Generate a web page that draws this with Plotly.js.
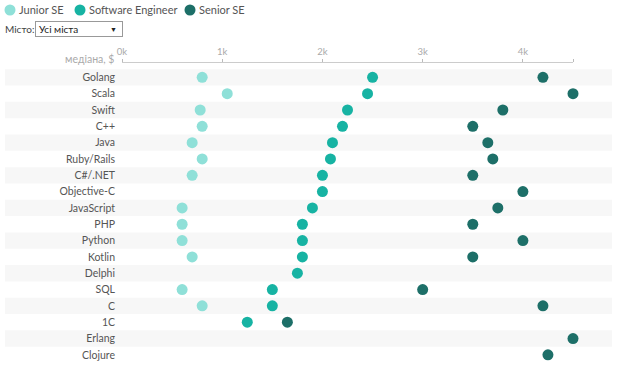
<!DOCTYPE html>
<html>
<head>
<meta charset="utf-8">
<script src="https://cdn.plot.ly/plotly-3.0.1.min.js"></script>
<style>
  html, body { margin: 0; padding: 0; background: #fff; }
  #wrap { position: relative; width: 620px; height: 375px; }
  #chart { position: absolute; left: 0; top: 0; width: 620px; height: 375px; }
  .lbl { position: absolute; left: 5px; top: 22px; font-family: Lato, sans-serif; font-size: 10px; line-height: 14px; color: #444; }
  .box { position: absolute; left: 35px; top: 21px; width: 83px; height: 14px; border: 1px solid #999; font-family: Lato, sans-serif; font-size: 10px; line-height: 14px; padding-left: 3px; color: #222; background: #fff; }
  .box span { position: absolute; right: 5px; top: 0; font-size: 7px; }
</style>
</head>
<body>
<div id="wrap">
  <div id="chart"></div>
  <div class="lbl">Місто:</div>
  <div class="box">Усі міста<span>▼</span></div>
</div>
<script>
const languages = ["Golang","Scala","Swift","C++","Java","Ruby/Rails","C#/.NET","Objective-C","JavaScript","PHP","Python","Kotlin","Delphi","SQL","C","1C","Erlang","Clojure"];
const juniorSE   = [800, 1050, 780, 800, 700, 800, 700, null, 600, 600, 600, 700, null, 600, 800, null, null, null];
const softwareEngineer = [2500, 2450, 2250, 2200, 2100, 2080, 2000, 2000, 1900, 1800, 1800, 1800, 1750, 1500, 1500, 1250, null, null];
const seniorSE   = [4200, 4500, 3800, 3500, 3650, 3700, 3500, 4000, 3750, 3500, 4000, 3500, null, 3000, 4200, 1650, 4500, 4250];
const seriesNames = ["Junior SE", "Software Engineer", "Senior SE"];
const seriesColors = ["#8fe0d8", "#17b3a3", "#1d6f68"];
const tickValues = [0, 1000, 2000, 3000, 4000, 4500];
const tickLabels = ["0k", "1k", "2k", "3k", "4k", ""];

const FONT = "Lato, sans-serif";
const W = 620, H = 375;
const M = {l: 122, r: 47, t: 63, b: 12};
const pw = W - M.l - M.r, ph = H - M.t - M.b;
const px = p => (p - M.l) / pw;
const py = p => (H - M.b - p) / ph;

const values = [juniorSE, softwareEngineer, seniorSE];
const traces = values.map((v, k) => ({
  type: "scatter", mode: "markers",
  x: v, y: languages, name: seriesNames[k],
  marker: {size: 11, color: seriesColors[k]},
  showlegend: false, cliponaxis: false,
  hoverinfo: "x+y"
}));

const shapes = [];
languages.forEach((lang, i) => {
  if (i % 2 === 0) {
    shapes.push({type: "rect", layer: "below", xref: "paper", yref: "y",
      x0: px(5), x1: px(612), y0: i - 0.5, y1: i + 0.5,
      fillcolor: "#f7f7f7", line: {width: 0}});
  }
});
const annotations = [{
  xref: "paper", yref: "paper", x: 0, y: 1, xanchor: "right", yanchor: "middle",
  xshift: -6, yshift: 4, text: "медіана, $", showarrow: false,
  font: {family: FONT, size: 10.5, color: "#aaa"}
}];
const legendX = [10, 80, 190];
seriesNames.forEach((n, k) => {
  shapes.push({type: "circle", xref: "paper", yref: "paper", xsizemode: "pixel", ysizemode: "pixel",
    xanchor: px(legendX[k]), yanchor: py(10), x0: -5.5, x1: 5.5, y0: -5.5, y1: 5.5,
    fillcolor: seriesColors[k], line: {width: 0}});
  annotations.push({xref: "paper", yref: "paper", x: px(legendX[k] + 7), y: py(10),
    xanchor: "left", yanchor: "middle", text: n, showarrow: false,
    font: {family: FONT, size: 11, color: "#555"}});
});

const layout = {
  width: W, height: H, margin: M,
  paper_bgcolor: "#fff", plot_bgcolor: "rgba(0,0,0,0)",
  font: {family: FONT, size: 10.5, color: "#555"},
  showlegend: false,
  xaxis: {side: "top", range: [0, 4500], tickvals: tickValues, ticktext: tickLabels,
    ticks: "outside", ticklen: 3, tickcolor: "#bbb", showline: true, linecolor: "#ccc", linewidth: 1,
    showgrid: false, zeroline: false, tickfont: {family: FONT, size: 9.5, color: "#aaa"}, fixedrange: true},
  yaxis: {type: "category", categoryorder: "array", categoryarray: languages,
    range: [17.5, -0.88], showgrid: false, zeroline: false, showline: false, ticks: "",
    ticklabelstandoff: 6, tickfont: {family: FONT, size: 10.5, color: "#555"}, fixedrange: true},
  shapes: shapes, annotations: annotations
};
Plotly.newPlot("chart", traces, layout, {displayModeBar: false, staticPlot: true});
</script>
</body>
</html>
